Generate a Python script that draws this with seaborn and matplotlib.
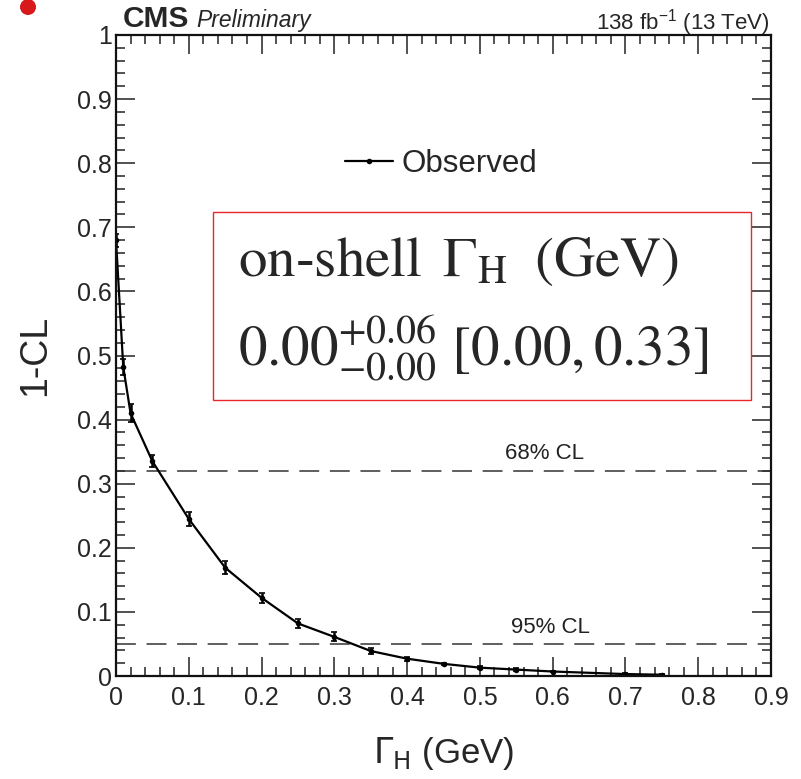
import numpy as np
import pandas as pd
import matplotlib
matplotlib.use("Agg")
import matplotlib.pyplot as plt
import matplotlib.patches as mpatches
import seaborn as sns

# ---- data ----
width_gev = [0.0, 0.01, 0.02, 0.05, 0.10, 0.15, 0.20, 0.25, 0.30, 0.35, 0.40, 0.45, 0.50, 0.55, 0.60, 0.70, 0.75]
one_minus_cl = [0.68, 0.482, 0.41, 0.335, 0.245, 0.169, 0.122, 0.082, 0.061, 0.039, 0.027, 0.019, 0.013, 0.010, 0.007, 0.003, 0.002]
cl_err = [0.010, 0.012, 0.014, 0.009, 0.011, 0.010, 0.008, 0.007, 0.007, 0.005, 0.003, 0.002, 0.002, 0.002, 0.001, 0.001, 0.001]
cl_levels = [0.32, 0.05]
cl_names = ["68% CL", "95% CL"]
cl_label_x = [0.535, 0.543]
xtick_vals = [0.0, 0.1, 0.2, 0.3, 0.4, 0.5, 0.6, 0.7, 0.8, 0.9]
xtick_labels = ["0", "0.1", "0.2", "0.3", "0.4", "0.5", "0.6", "0.7", "0.8", "0.9"]
ytick_vals = [0.0, 0.1, 0.2, 0.3, 0.4, 0.5, 0.6, 0.7, 0.8, 0.9, 1.0]
ytick_labels = ["0", "0.1", "0.2", "0.3", "0.4", "0.5", "0.6", "0.7", "0.8", "0.9", "1"]

df = pd.DataFrame({"width": width_gev, "cl": one_minus_cl, "err": cl_err})

sns.set_style("ticks")
plt.rcParams["font.family"] = ["Liberation Sans", "DejaVu Sans"]

W, H = 801, 779
fig = plt.figure(figsize=(W / 100, H / 100), dpi=100)
ax = fig.add_axes([116 / W, 1 - 676 / H, (771 - 116) / W, (676 - 35) / H])

sns.lineplot(data=df, x="width", y="cl", ax=ax, color="black", linewidth=1.6,
             marker="o", markersize=4, markeredgewidth=0, label="Observed")
ax.errorbar(df["width"], df["cl"], yerr=df["err"], fmt="none", ecolor="black",
            elinewidth=1.8, capsize=2.0, capthick=1.2)

for lvl, name, lx in zip(cl_levels, cl_names, cl_label_x):
    ax.axhline(lvl, color="#333333", linewidth=1.1, linestyle=(0, (13, 7)), zorder=1)
    ax.text(lx, lvl + 0.010, name, fontsize=16, color="#222222", ha="left", va="bottom")

ax.set_xlim(0, 0.9)
ax.set_ylim(0, 1)
ax.set_xticks(xtick_vals)
ax.set_xticklabels(xtick_labels)
ax.set_yticks(ytick_vals)
ax.set_yticklabels(ytick_labels)
ax.xaxis.set_minor_locator(matplotlib.ticker.MultipleLocator(0.02))
ax.yaxis.set_minor_locator(matplotlib.ticker.MultipleLocator(0.02))
ax.tick_params(which="both", direction="in", top=True, right=True, width=1.1, color="#222222")
ax.tick_params(which="major", length=13.5, labelsize=18)
ax.tick_params(which="minor", length=6.5)
ax.tick_params(axis="x", which="major", pad=7)
ax.tick_params(axis="y", which="major", pad=3)
for s in ax.spines.values():
    s.set_linewidth(1.6)
    s.set_color("#111111")

ax.set_xlabel(r"$\Gamma_{\mathrm{H}}$ (GeV)", fontsize=25, labelpad=18, math_fontfamily="dejavusans")
ax.set_ylabel("1-CL", fontsize=27, labelpad=17)

leg = ax.legend(loc="center left", bbox_to_anchor=(345 / W, 1 - 164 / H), bbox_transform=fig.transFigure,
                frameon=False, fontsize=22.5, handlelength=1.55, handletextpad=0.26,
                borderpad=0, borderaxespad=0)

# result box
box = mpatches.Rectangle((213 / W, 1 - 400 / H), 538 / W, 188 / H, transform=fig.transFigure,
                         facecolor="white", edgecolor="#e8262b", linewidth=1.0, zorder=5)
fig.patches.append(box)
fig.text(238 / W, 1 - 276 / H, r"on-shell $\,\Gamma_{\mathrm{H}}\;$ (GeV)", fontsize=41,
         family="STIXGeneral", math_fontfamily="stix", va="baseline", ha="left", zorder=6)
fig.text(238 / W, 1 - 365 / H, r"$0.00^{+0.06}_{-0.00}\ [0.00, 0.33]$", fontsize=41,
         family="STIXGeneral", math_fontfamily="stix", va="baseline", ha="left", zorder=6)

# header texts
fig.text(123 / W, 1 - 27 / H, "CMS", fontsize=21.5, fontweight="bold", va="baseline", ha="left")
fig.text(196 / W, 1 - 27 / H, "Preliminary", fontsize=16.5, fontstyle="italic", va="baseline", ha="left")
fig.text(770 / W, 1 - 29 / H, r"138 fb$^{\mathregular{-1}}$ (13 TeV)", fontsize=16, va="baseline", ha="right")

# red dot
dot = mpatches.Ellipse((28 / W, 1 - 7 / H), 16 / W, 16 / H, transform=fig.transFigure,
                       facecolor="#d7191c", edgecolor="none")
fig.patches.append(dot)

fig.savefig("out.png", dpi=100)
